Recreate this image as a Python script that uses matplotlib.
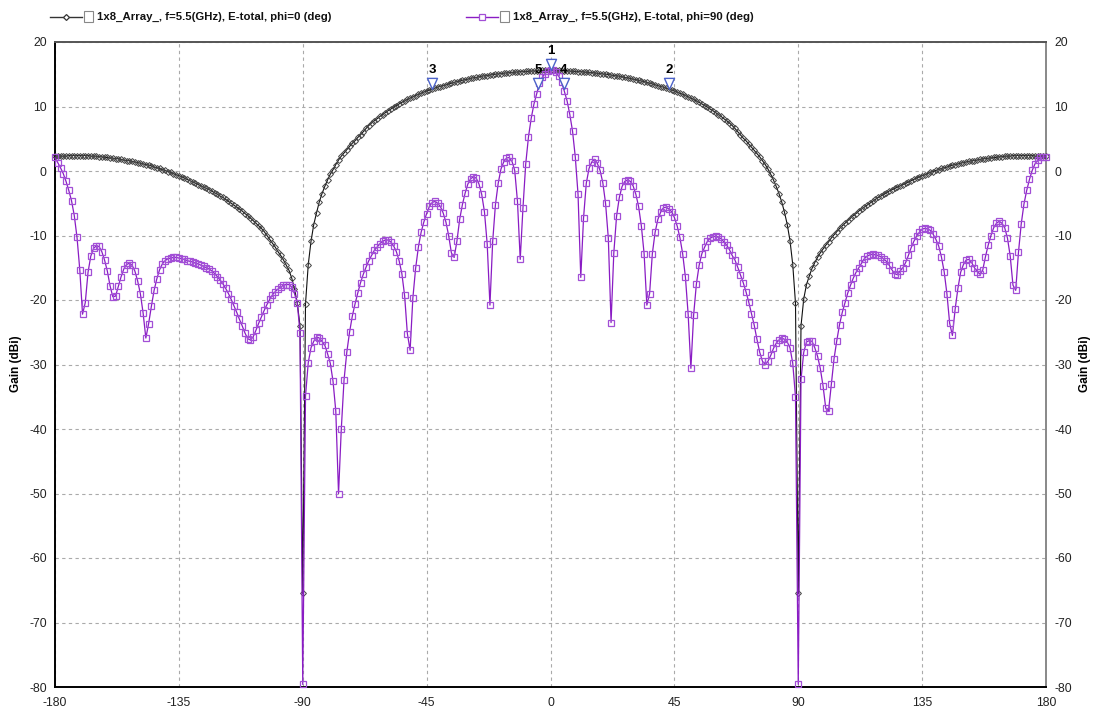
import numpy as np
import matplotlib
matplotlib.use("Agg")
import matplotlib.pyplot as plt
from matplotlib.lines import Line2D
from matplotlib.patches import Rectangle
from matplotlib.path import Path
from matplotlib import font_manager

# ---------------- data ----------------
theta = np.arange(-180, 181, 1)  # deg, 1-degree sampling

# phi = 0 deg  (black, diamonds)  -180 .. 180
gain_phi0 = [
    2.3, 2.3, 2.3, 2.3, 2.3, 2.4, 2.4, 2.4, 2.4, 2.4,            # -180..-171
    2.4, 2.4, 2.4, 2.3, 2.3, 2.3, 2.2, 2.2, 2.1, 2.1,            # -170..-161
    2.0, 2.0, 1.9, 1.9, 1.8, 1.7, 1.6, 1.6, 1.5, 1.4,            # -160..-151
    1.3, 1.2, 1.1, 1.0, 0.9, 0.8, 0.6, 0.5, 0.4, 0.2,            # -150..-141
    0.1, -0.1, -0.2, -0.4, -0.6, -0.7, -0.9, -1.1, -1.3, -1.5,   # -140..-131
    -1.7, -1.9, -2.1, -2.3, -2.5, -2.7, -2.9, -3.1, -3.4, -3.6,  # -130..-121
    -3.9, -4.1, -4.4, -4.7, -5.0, -5.3, -5.6, -5.9, -6.2, -6.6,  # -120..-111
    -6.9, -7.3, -7.7, -8.1, -8.5, -8.9, -9.4, -10.0, -10.6, -11.2,   # -110..-101
    -11.8, -12.5, -13.1, -13.8, -14.6, -15.4, -16.6, -18.3, -20.4, -24.0,  # -100..-91
    -65.5,                                                        # -90
    -20.6, -14.5, -10.9, -8.3, -6.5, -4.8, -3.5, -2.4, -1.4,     # -89..-81
    -0.5, 0.2, 1.0, 1.7, 2.3, 2.8, 3.3, 3.8, 4.3, 4.7,           # -80..-71
    5.2, 5.6, 6.1, 6.6, 7.05, 7.45, 7.8, 8.1, 8.45, 8.75,        # -70..-61
    9.05, 9.35, 9.6, 9.9, 10.15, 10.4, 10.65, 10.85, 11.1, 11.3, # -60..-51
    11.5, 11.7, 11.9, 12.05, 12.25, 12.4, 12.55, 12.7, 12.85, 13.0,  # -50..-41
    13.1, 13.25, 13.35, 13.5, 13.6, 13.75, 13.85, 13.95, 14.05, 14.15,  # -40..-31
    14.25, 14.35, 14.45, 14.5, 14.6, 14.7, 14.75, 14.8, 14.9, 14.95,  # -30..-21
    15.0, 15.05, 15.1, 15.15, 15.2, 15.25, 15.3, 15.3, 15.35, 15.4,   # -20..-11
    15.4, 15.45, 15.45, 15.5, 15.5, 15.55, 15.55, 15.6, 15.6, 15.6,   # -10..-1
    15.6,                                                        # 0
    15.6, 15.6, 15.6, 15.55, 15.55, 15.5, 15.5, 15.45, 15.45, 15.4,   # 1..10
    15.4, 15.35, 15.3, 15.3, 15.25, 15.2, 15.15, 15.1, 15.05, 15.0,   # 11..20
    14.95, 14.9, 14.8, 14.75, 14.7, 14.6, 14.5, 14.45, 14.35, 14.25,  # 21..30
    14.15, 14.05, 13.95, 13.85, 13.75, 13.6, 13.5, 13.35, 13.25, 13.1,  # 31..40
    13.0, 12.85, 12.7, 12.55, 12.4, 12.25, 12.05, 11.9, 11.7, 11.5,   # 41..50
    11.3, 11.1, 10.85, 10.65, 10.4, 10.15, 9.9, 9.6, 9.35, 9.05,      # 51..60
    8.75, 8.45, 8.1, 7.8, 7.45, 7.05, 6.6, 6.1, 5.6, 5.1,             # 61..70
    4.7, 4.2, 3.7, 3.2, 2.7, 2.2, 1.6, 1.0, 0.3, -0.5,                # 71..80
    -1.4, -2.4, -3.5, -4.8, -6.4, -8.3, -10.8, -14.5, -20.5, -65.5,   # 81..90
    -24.0, -19.8, -17.6, -16.3, -15.1, -14.2, -13.4, -12.7, -12.1, -11.5,  # 91..100
    -11.0, -10.4, -9.9, -9.4, -8.9, -8.5, -8.1, -7.7, -7.3, -6.9,     # 101..110
    -6.6, -6.2, -5.9, -5.6, -5.3, -5.0, -4.7, -4.4, -4.1, -3.9,       # 111..120
    -3.6, -3.4, -3.1, -2.9, -2.7, -2.5, -2.3, -2.1, -1.9, -1.7,       # 121..130
    -1.5, -1.3, -1.1, -0.9, -0.7, -0.6, -0.4, -0.2, -0.1, 0.1,        # 131..140
    0.2, 0.4, 0.5, 0.6, 0.8, 0.9, 1.0, 1.1, 1.2, 1.3,                 # 141..150
    1.4, 1.5, 1.6, 1.6, 1.7, 1.8, 1.9, 1.9, 2.0, 2.0,                 # 151..160
    2.1, 2.1, 2.2, 2.2, 2.3, 2.3, 2.3, 2.4, 2.4, 2.4,                 # 161..170
    2.4, 2.4, 2.4, 2.4, 2.4, 2.3, 2.3, 2.3, 2.3, 2.3,                 # 171..180
]

# phi = 90 deg  (purple, squares)  -180 .. 180
gain_phi90 = [
    2.1, 1.3, 0.5, -0.4, -1.6, -3.0, -4.6, -6.9, -10.3, -15.3,        # -180..-171
    -22.2, -20.4, -15.7, -13.2, -12.0, -11.6, -11.7, -12.5, -13.8, -15.5,  # -170..-161
    -17.8, -19.5, -19.4, -17.9, -16.4, -15.2, -14.5, -14.3, -14.6, -15.5,  # -160..-151
    -17.0, -19.0, -22.0, -25.9, -23.7, -21.0, -18.5, -16.7, -15.3, -14.4,  # -150..-141
    -13.9, -13.6, -13.5, -13.4, -13.4, -13.5, -13.6, -13.7, -13.9, -14.0,  # -140..-131
    -14.1, -14.3, -14.4, -14.6, -14.8, -15.0, -15.2, -15.5, -15.9, -16.4,  # -130..-121
    -16.9, -17.5, -18.2, -19.0, -19.9, -20.9, -21.9, -23.0, -24.0, -25.1,  # -120..-111
    -26.0, -26.2, -25.7, -24.7, -23.6, -22.6, -21.6, -20.7, -19.9, -19.2,  # -110..-101
    -18.7, -18.3, -18.0, -17.7, -17.6, -17.6, -18.0, -19.0, -20.4, -25.1,  # -100..-91
    -79.6,                                                             # -90
    -34.9, -29.7, -27.4, -26.4, -25.7, -25.9, -26.4, -27.0, -28.3,     # -89..-81
    -29.8, -32.6, -37.2, -50.0, -40.0, -32.4, -28.1, -25.0, -22.5, -20.6,  # -80..-71
    -18.9, -17.3, -16.0, -14.9, -13.9, -13.1, -12.3, -11.8, -11.3, -10.9,  # -70..-61
    -10.7, -10.7, -11.0, -11.6, -12.5, -13.9, -15.9, -19.3, -25.2, -27.8,  # -60..-51
    -19.7, -15.1, -11.8, -9.5, -7.9, -6.6, -5.5, -4.9, -4.7, -5.0,     # -50..-41
    -5.5, -6.5, -7.9, -10.0, -12.7, -13.4, -10.9, -7.5, -5.2, -3.4,    # -40..-31
    -2.0, -1.2, -0.9, -1.1, -2.0, -3.6, -6.3, -11.3, -20.8, -10.9,     # -30..-21
    -5.2, -1.9, 0.3, 1.4, 2.0, 2.1, 1.5, 0.1, -4.7, -13.7,             # -20..-11
    -5.7, 1.1, 5.3, 8.2, 10.4, 12.0, 13.6, 14.5, 15.1, 15.5,           # -10..-1
    15.7,                                                              # 0
    15.6, 15.4, 14.7, 13.8, 12.4, 10.9, 8.8, 6.2, 2.2, -3.6,           # 1..10
    -16.5, -7.3, -1.9, 0.4, 1.4, 1.8, 1.2, 0.1, -1.8, -5.0,            # 11..20
    -10.4, -23.5, -12.7, -7.0, -4.1, -2.4, -1.6, -1.4, -1.6, -2.3,     # 21..30
    -3.6, -5.5, -8.5, -12.8, -20.8, -19.0, -12.8, -9.5, -7.5, -6.4,    # 31..40
    -5.7, -5.6, -5.9, -6.3, -7.2, -8.5, -10.3, -12.8, -16.4, -22.2,    # 41..50
    -30.6, -22.3, -17.5, -14.6, -12.8, -11.8, -10.9, -10.4, -10.2, -10.1,  # 51..60
    -10.3, -10.5, -11.0, -11.5, -12.2, -13.1, -13.8, -14.9, -16.1, -17.3,  # 61..70
    -18.7, -20.3, -22.1, -23.9, -26.1, -28.1, -29.5, -30.0, -29.5, -28.6,  # 71..80
    -27.5, -26.7, -26.2, -25.9, -26.1, -26.5, -27.4, -29.8, -35.0, -79.6,  # 81..90
    -32.3, -28.1, -26.5, -26.3, -26.4, -27.4, -28.7, -30.6, -33.3, -36.8,  # 91..100
    -37.2, -33.1, -29.1, -26.3, -23.8, -21.9, -20.4, -18.9, -17.7, -16.6,  # 101..110
    -15.7, -15.0, -14.3, -13.6, -13.2, -13.0, -12.9, -13.0, -13.1, -13.3,  # 111..120
    -13.6, -14.0, -14.6, -15.3, -15.9, -16.1, -15.5, -15.0, -14.2, -13.1,  # 121..130
    -11.9, -10.9, -10.1, -9.5, -9.0, -8.9, -9.0, -9.2, -9.8, -10.6,    # 131..140
    -11.6, -13.3, -15.6, -19.0, -23.6, -25.5, -21.4, -18.2, -15.7, -14.5,  # 141..150
    -13.8, -13.7, -14.2, -15.0, -15.6, -16.0, -15.4, -13.3, -11.5, -10.0,  # 151..160
    -8.8, -8.1, -7.8, -8.1, -8.8, -10.4, -13.2, -17.7, -18.5, -12.6,   # 161..170
    -8.2, -5.1, -3.0, -1.3, 0.1, 1.1, 1.7, 2.1, 2.2, 2.2,              # 171..180
]

marker_labels = ["1", "2", "3", "4", "5"]
marker_theta = [0.0, 43.0, -43.0, 4.8, -4.6]
marker_gain = [15.7, 12.7, 12.7, 12.7, 12.7]

x_ticks = [-180, -135, -90, -45, 0, 45, 90, 135, 180]
y_ticks = [-80, -70, -60, -50, -40, -30, -20, -10, 0, 10, 20]

legend_labels = ["1x8_Array_, f=5.5(GHz), E-total, phi=0 (deg)",
                 "1x8_Array_, f=5.5(GHz), E-total, phi=90 (deg)"]
y_label = "Gain (dBi)"

assert len(gain_phi0) == len(theta), len(gain_phi0)
assert len(gain_phi90) == len(theta), len(gain_phi90)

# ---------------- style ----------------
avail = {f.name for f in font_manager.fontManager.ttflist}
narrow = "Liberation Sans Narrow" if "Liberation Sans Narrow" in avail else "Liberation Sans"
plt.rcParams["font.family"] = [narrow, "DejaVu Sans"]
plt.rcParams["axes.unicode_minus"] = False

BLACK = "#111111"
PURPLE_LINE = "#8a1cc4"
PURPLE_MK = "#a24fd6"
MARKER_BLUE = "#4d63c9"

W, H = 1098, 712
fig = plt.figure(figsize=(W / 100, H / 100), dpi=100)
L, R, T, B = 55, 1046, 42, 687
ax = fig.add_axes([L / W, 1 - B / H, (R - L) / W, (B - T) / H])

ax.set_xlim(-180, 180)
ax.set_ylim(-80, 20)
ax.set_xticks(x_ticks)
ax.set_yticks(y_ticks)
ax.grid(True, color="#aaaaaa", linestyle=(0, (3, 3)), linewidth=0.8)
ax.set_axisbelow(True)

ax.tick_params(axis="both", length=0, labelsize=8.8, colors="#222222")
ax.tick_params(axis="x", pad=7)
ax.tick_params(axis="y", pad=6, labelright=True)

for side, col, lw in [("left", "#000000", 1.4), ("bottom", "#000000", 1.4),
                      ("top", "#555555", 1.4), ("right", "#888888", 1.4)]:
    ax.spines[side].set_color(col)
    ax.spines[side].set_linewidth(lw)

# series
ax.plot(theta, gain_phi0, color=BLACK, lw=0.8, marker="D", ms=3.0,
        mfc="none", mec="#444444", mew=0.7, zorder=3, clip_on=False)
ax.plot(theta, gain_phi90, color=PURPLE_LINE, lw=0.9, marker="s", ms=3.8,
        mfc="none", mec=PURPLE_MK, mew=0.9, zorder=4, clip_on=False)

# HFSS-style markers: downward triangles with apex on the data point
tri = Path([(-0.45, 1.0), (0.45, 1.0), (0.0, 0.0), (-0.45, 1.0)],
           [Path.MOVETO, Path.LINETO, Path.LINETO, Path.CLOSEPOLY])
ax.plot(marker_theta, marker_gain, linestyle="none", marker=tri, ms=16,
        mfc="white", mec=MARKER_BLUE, mew=1.0, zorder=6, clip_on=False)
for lab, mx, my in zip(marker_labels, marker_theta, marker_gain):
    ax.annotate(lab, (mx, my), xytext=(0, 9.5), textcoords="offset points",
                ha="center", va="bottom", fontsize=9.5, fontweight="bold",
                color="#000000", zorder=7)

# axis labels
fig.text(16 / W, 1 - 364 / H, y_label, rotation=90, ha="center", va="center",
         fontsize=8.5, fontweight="bold")
fig.text(1085 / W, 1 - 364 / H, y_label, rotation=90, ha="center", va="center",
         fontsize=8.5, fontweight="bold")

# legend drawn at the top like the HFSS report header
def legend_entry(x0, label, color, mcolor, marker, ms):
    y = 1 - 17 / H
    ln = Line2D([x0 / W, (x0 + 32) / W], [y, y], transform=fig.transFigure,
                color=color, lw=1.0)
    fig.add_artist(ln)
    mk = Line2D([(x0 + 16) / W], [y], transform=fig.transFigure, color=color,
                marker=marker, ms=ms, mfc="white", mec=mcolor, mew=0.9,
                linestyle="none")
    fig.add_artist(mk)
    box = Rectangle(((x0 + 34) / W, 1 - 22 / H), 9 / W, 11 / H,
                    transform=fig.transFigure, fill=False, ec="#888888", lw=0.8)
    fig.add_artist(box)
    fig.text((x0 + 47) / W, y, label, ha="left", va="center",
             fontsize=8.2, fontweight="bold", color="#111111")

legend_entry(50, legend_labels[0], "#333333", "#333333", "D", 3.0)
legend_entry(466, legend_labels[1], PURPLE_LINE, PURPLE_MK, "s", 3.8)

fig.savefig("out.png", dpi=100, facecolor="white")
